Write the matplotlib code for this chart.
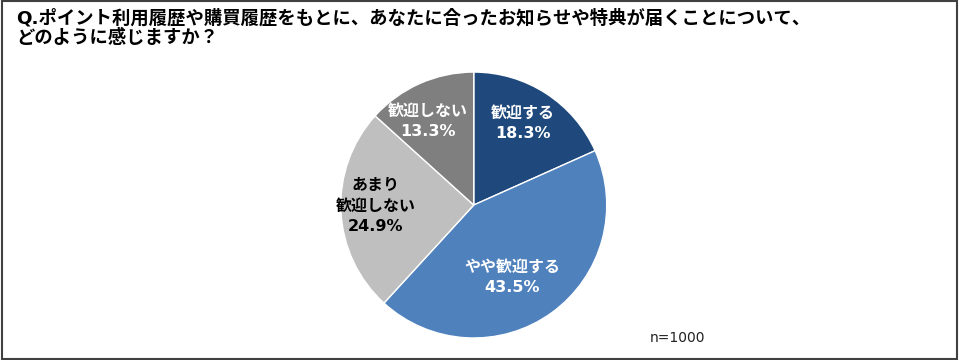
import matplotlib.pyplot as plt
import matplotlib.patches as mpatches
import numpy as np

plt.rcParams['font.family'] = ['DejaVu Sans', 'Noto Sans CJK JP']

# Data
labels = ['歓迎する', 'やや歓迎する', 'あまり\n歓迎しない', '歓迎しない']
shares = [18.3, 43.5, 24.9, 13.3]
colors = ['#1F497D', '#4F81BD', '#BFBFBF', '#7F7F7F']
text_colors = ['white', 'white', 'black', 'white']

# label placement (radius fraction along mid-angle + small nudge, axis units)
label_dist = [0.77, 0.62, 0.74, 0.76]
label_shift = [(-0.05, -0.035), (-0.075, -0.04), (0.0, 0.025), (-0.04, -0.065)]

title = ('Q.ポイント利用履歴や購買履歴をもとに、あなたに合ったお知らせや特典が届くことについて、\n'
         'どのように感じますか？')
note = 'n=1000'

fig = plt.figure(figsize=(9.6, 3.6), dpi=100)

# outer frame
fig.patches.append(mpatches.Rectangle((0.002, 0.004), 0.995, 0.992, transform=fig.transFigure,
                                      fill=False, edgecolor='#404040', linewidth=1.5))

ax = fig.add_axes([0.355, 0.061, 0.277, 0.739])
wedges, _ = ax.pie(shares, colors=colors, startangle=90, counterclock=False,
                   wedgeprops=dict(edgecolor='white', linewidth=1.0))
ax.set_xlim(-1, 1)
ax.set_ylim(-1, 1)
ax.set_aspect('equal')

for w, lab, pct, tc, d, (sx, sy) in zip(wedges, labels, shares, text_colors, label_dist, label_shift):
    mid = np.deg2rad((w.theta1 + w.theta2) / 2)
    ax.text(d * np.cos(mid) + sx, d * np.sin(mid) + sy, f'{lab}\n{pct:.1f}%', ha='center', va='center',
            color=tc, fontsize=11.5, fontweight='bold', linespacing=1.45)

fig.text(0.017, 0.975, title, ha='left', va='top', fontsize=13.2, fontweight='bold',
         linespacing=1.1)
fig.text(0.677, 0.06, note, ha='left', va='center', fontsize=10, color='#222222')

fig.savefig('out.png', dpi=100)
